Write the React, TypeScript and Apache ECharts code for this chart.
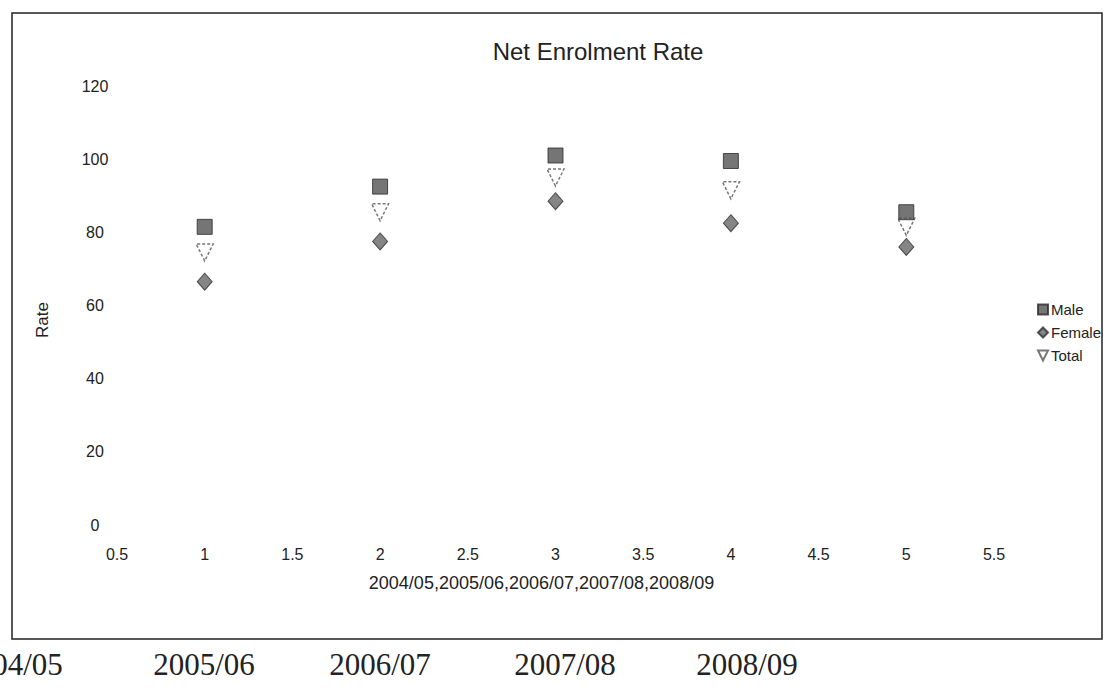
import React, { useEffect, useRef } from "react";
import * as echarts from "echarts";

const seriesNames = ["Male", "Female", "Total"];
const xPositions = [1, 2, 3, 4, 5];
const maleValues = [81.5, 92.5, 101, 99.5, 85.5];
const femaleValues = [66.5, 77.5, 88.5, 82.5, 76];
const totalValues = [74.5, 85.5, 95, 91.5, 81.5];
const xAxisTitle = "2004/05,2005/06,2006/07,2007/08,2008/09";
const yearLabels = ["2004/05", "2005/06", "2006/07", "2007/08", "2008/09"];
const yearLabelX = [12, 204, 380, 565, 747];

const SANS = "'Liberation Sans', Arial, sans-serif";
const SERIF = "'Liberation Serif', 'Times New Roman', serif";

export default function App() {
  const ref = useRef<HTMLDivElement>(null);
  useEffect(() => {
    if (!ref.current) return;
    const chart = echarts.init(ref.current, undefined, { renderer: "svg" });
    const pts = (vals: number[]) => xPositions.map((x, i) => [x, vals[i]]);
    const option: any = {
      animation: false,
      backgroundColor: "#ffffff",
      title: {
        text: "Net Enrolment Rate",
        left: 593,
        top: 34,
        textAlign: "center",
        textStyle: { fontFamily: SANS, fontSize: 24, fontWeight: "normal", color: "#222" },
      },
      legend: {
        orient: "vertical",
        left: 1032,
        top: 297,
        itemWidth: 10,
        itemHeight: 10,
        itemGap: 8,
        textStyle: { fontFamily: SANS, fontSize: 15, color: "#222", padding: [0, 0, 0, -2] },
        data: [
          { name: "Male", icon: "rect" },
          { name: "Female", icon: "diamond" },
          { name: "Total", icon: "path://M0,0 L10,0 L5,10 Z" },
        ],
      },
      grid: { left: 117, right: 115, top: 86, bottom: 165 },
      xAxis: {
        type: "value",
        min: 0.5,
        max: 5.5,
        interval: 0.5,
        name: xAxisTitle,
        nameLocation: "middle",
        nameGap: 49,
        nameTextStyle: { fontFamily: SANS, fontSize: 18, color: "#222", padding: [0, 28, 0, 0] },
        axisLine: { show: false },
        axisTick: { show: false },
        splitLine: { show: false },
        axisLabel: { fontFamily: SANS, fontSize: 16, color: "#222", margin: 21 },
      },
      yAxis: {
        type: "value",
        min: 0,
        max: 120,
        interval: 20,
        name: "Rate",
        nameLocation: "middle",
        nameGap: 66,
        nameRotate: 90,
        nameTextStyle: { fontFamily: SANS, fontSize: 17, color: "#222", padding: [0, 29, 0, 0] },
        axisLine: { show: false },
        axisTick: { show: false },
        splitLine: { show: false },
        axisLabel: { fontFamily: SANS, fontSize: 16, color: "#222", margin: 22, align: "center" },
      },
      series: [
        {
          name: seriesNames[0],
          type: "scatter",
          symbol: "rect",
          symbolSize: 15,
          itemStyle: { color: "#535353", borderColor: "#2a2a2a", borderWidth: 1 },
          data: pts(maleValues),
          z: 3,
        },
        {
          name: seriesNames[1],
          type: "scatter",
          symbol: "diamond",
          symbolSize: [15, 17],
          itemStyle: { color: "#666666", borderColor: "#2e2e2e", borderWidth: 1 },
          data: pts(femaleValues),
          z: 3,
        },
        {
          name: seriesNames[2],
          type: "scatter",
          symbol: "triangle",
          symbolRotate: 180,
          symbolSize: [17, 17],
          itemStyle: { color: "#ffffff", borderColor: "#555", borderWidth: 1.5, borderType: [3, 2] },
          data: pts(totalValues),
          z: 2,
        },
      ],
      graphic: [
        {
          type: "rect",
          shape: { x: 12, y: 13, width: 1090, height: 626 },
          style: { fill: "none", stroke: "#222", lineWidth: 1.5 },
          silent: true,
          z: -1,
        },
        ...yearLabels.map((t, i) => ({
          type: "text",
          x: yearLabelX[i],
          y: 664,
          style: {
            text: t,
            fontFamily: SERIF,
            fontSize: 31,
            fill: "#222",
            align: "center",
            verticalAlign: "middle",
          },
        })),
      ],
    };
    chart.setOption(option);
    return () => chart.dispose();
  }, []);
  return (
    <div
      ref={ref}
      style={{ position: "fixed", left: 0, top: 0, width: 1109, height: 690 }}
    />
  );
}
